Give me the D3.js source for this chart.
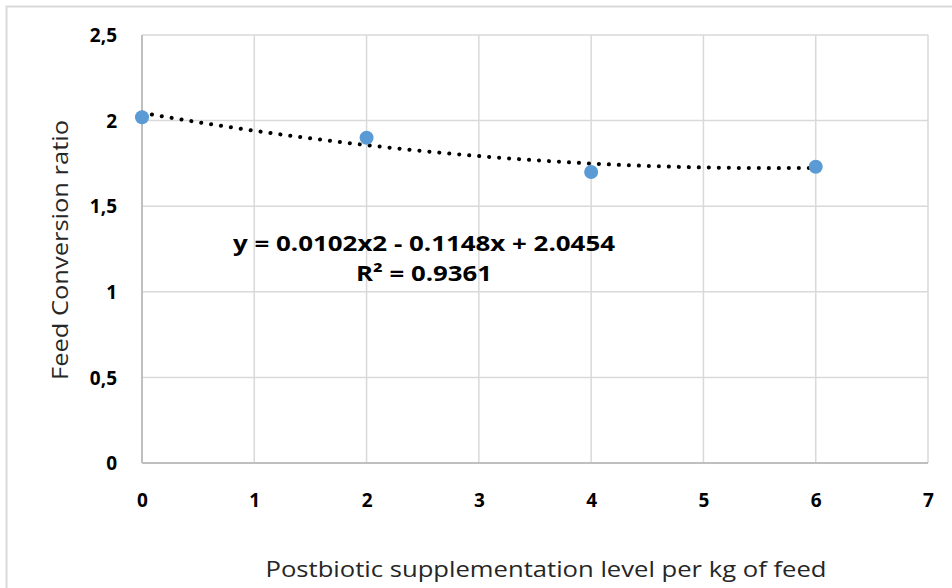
<!DOCTYPE html>
<html lang="en">
<head>
    <meta charset="UTF-8">
    <title>Feed conversion ratio</title>
    <script src="https://d3js.org/d3.v7.min.js"></script>
    <style>
        body { margin: 0; background: #fff; }
        text { font-family: "Open Sans", "Noto Sans", sans-serif; }
    </style>
</head>
<body>
<div style="width: 952px;height: 588px" id="figure"></div>
<script>
    // data
    let levels = [0, 2, 4, 6];
    let fcr = [2.02, 1.90, 1.70, 1.73];
    let trendCoef = [0.0102, -0.1148, 2.0454]; // a, b, c of the printed fit
    let xTicks = [0, 1, 2, 3, 4, 5, 6, 7];
    let yTicks = [0, 0.5, 1, 1.5, 2, 2.5];
    let yTickLabels = ["0", "0,5", "1", "1,5", "2", "2,5"];
    let equationText = "y = 0.0102x2 - 0.1148x + 2.0454";
    let r2Text = "R\u00B2 = 0.9361";

    let w = 952, h = 588;
    let plotLeft = 142, plotRight = 928, plotTop = 35, plotBottom = 463;
    let dot_color = "#5B9BD5";
    let grid_color = "#d9d9d9";

    let svg = d3.select("#figure").append("svg")
        .attr("width", w)
        .attr("height", h);

    // outer chart border (only the left and top sides are inside the picture)
    svg.append("path")
        .attr("d", "M6.5,588 L6.5,6.5 L952,6.5")
        .style("fill", "none")
        .style("stroke", grid_color)
        .style("stroke-width", 2);

    let xScale = d3.scaleLinear().domain([0, 7]).range([plotLeft, plotRight]);
    let yScale = d3.scaleLinear().domain([0, 2.5]).range([plotBottom, plotTop]);

    // grid
    let plot = svg.append("g");
    plot.selectAll(".vgrid").data(xTicks).enter().append("line")
        .attr("x1", d => xScale(d)).attr("x2", d => xScale(d))
        .attr("y1", yScale(0)).attr("y2", yScale(2.5))
        .style("stroke", grid_color).style("stroke-width", 1.5);
    plot.selectAll(".hgrid").data(yTicks).enter().append("line")
        .attr("x1", xScale(0)).attr("x2", xScale(7))
        .attr("y1", d => yScale(d)).attr("y2", d => yScale(d))
        .style("stroke", grid_color).style("stroke-width", 1.5);
    // axis lines, a bit darker
    plot.append("line")
        .attr("x1", xScale(0)).attr("x2", xScale(7))
        .attr("y1", yScale(0)).attr("y2", yScale(0))
        .style("stroke", "#bfbfbf").style("stroke-width", 2);
    plot.append("line")
        .attr("x1", xScale(0)).attr("x2", xScale(0))
        .attr("y1", yScale(0)).attr("y2", yScale(2.5))
        .style("stroke", "#bfbfbf").style("stroke-width", 2);

    // tick labels
    let xAxis = d3.axisBottom(xScale).tickValues(xTicks)
        .tickFormat(d3.format("d")).tickSize(0).tickPadding(0);
    let gx = svg.append("g").attr("transform", "translate(0," + (plotBottom + 44) + ")").call(xAxis);
    gx.select(".domain").remove();
    gx.selectAll("text")
        .attr("dy", 0)
        .style("font-family", "'Open Sans', sans-serif")
        .style("font-size", "19px").style("font-weight", "bold").style("fill", "#000");

    let yAxis = d3.axisLeft(yScale).tickValues(yTicks)
        .tickFormat((d, i) => yTickLabels[i]).tickSize(0).tickPadding(0);
    let gy = svg.append("g").attr("transform", "translate(" + (plotLeft - 25) + ",0)").call(yAxis);
    gy.select(".domain").remove();
    gy.selectAll("text")
        .attr("dy", "0.35em")
        .style("font-family", "'Open Sans', sans-serif")
        .style("font-size", "19px").style("font-weight", "bold").style("fill", "#000");

    // polynomial trendline, dotted
    let trend = d3.range(0, 6.001, 0.05).map(x => [x, trendCoef[0] * x * x + trendCoef[1] * x + trendCoef[2]]);
    svg.append("path")
        .datum(trend)
        .attr("d", d3.line().x(d => xScale(d[0])).y(d => yScale(d[1])))
        .style("fill", "none")
        .style("stroke", "#000")
        .style("stroke-width", 4)
        .style("stroke-linecap", "round")
        .style("stroke-dasharray", "0.1 9.9");

    // points
    svg.selectAll(".pt").data(levels).enter().append("circle")
        .attr("cx", d => xScale(d))
        .attr("cy", (d, i) => yScale(fcr[i]))
        .attr("r", 7)
        .style("fill", dot_color);

    // equation labels
    svg.append("text")
        .attr("x", 424).attr("y", 251)
        .attr("text-anchor", "middle")
        .style("font-size", "21px").style("font-weight", "bold")
        .attr("textLength", 382).attr("lengthAdjust", "spacingAndGlyphs")
        .text(equationText);
    svg.append("text")
        .attr("x", 424).attr("y", 281)
        .attr("text-anchor", "middle")
        .style("font-size", "21px").style("font-weight", "bold")
        .attr("textLength", 136).attr("lengthAdjust", "spacingAndGlyphs")
        .text(r2Text);

    // axis titles
    svg.append("text")
        .attr("x", 546).attr("y", 577)
        .attr("text-anchor", "middle")
        .style("font-size", "22px").style("fill", "#262626")
        .attr("textLength", 561).attr("lengthAdjust", "spacingAndGlyphs")
        .text("Postbiotic supplementation level per kg of feed");
    svg.append("text")
        .attr("transform", "translate(68,250) rotate(-90)")
        .attr("text-anchor", "middle")
        .style("font-size", "21px").style("fill", "#262626")
        .attr("textLength", 260).attr("lengthAdjust", "spacingAndGlyphs")
        .text("Feed Conversion ratio");
</script>
</body>
</html>
